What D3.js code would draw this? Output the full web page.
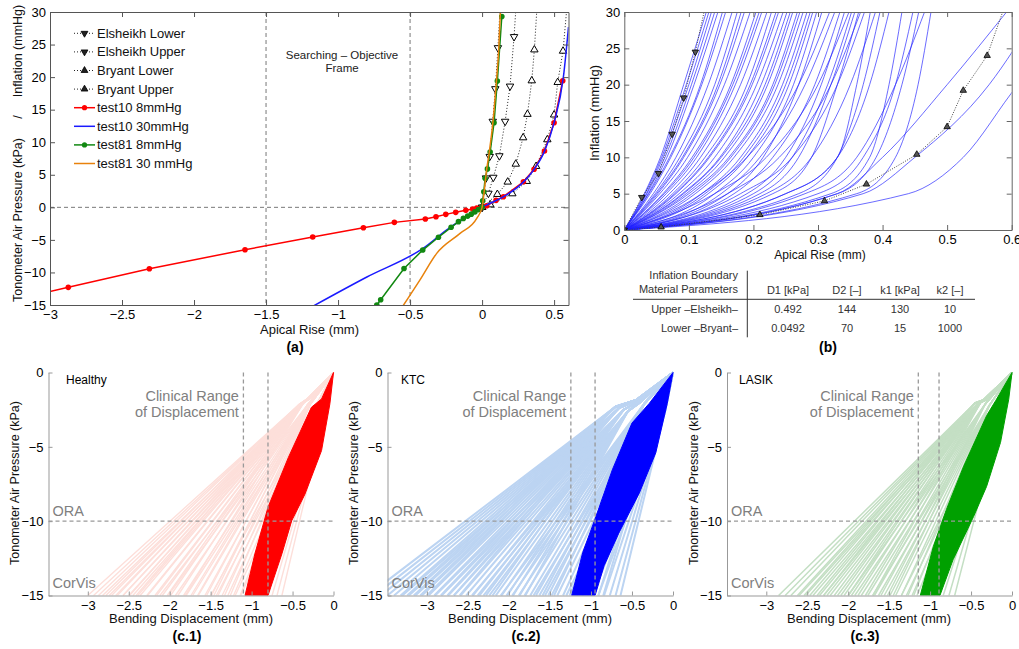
<!DOCTYPE html>
<meta charset="utf-8">
<head>
    <title>Inflation and tonometer response</title>
    <script src="https://cdn.jsdelivr.net/npm/d3@7"></script>
</head>

<style>
    body { margin: 0; background: #fff; }
</style>
<body>
<script>
    // ---- (a) inflation boundaries (also used in b) ----
    var elsLowerX = [0, 0.044, 0.078, 0.12, 0.16, 0.194, 0.222, 0.236];
    var elsLowerY = [0, 2.15, 4.6, 7.9, 13.2, 18.6, 26.2, 31];
    var elsUpperX = [0, 0.027, 0.053, 0.074, 0.092, 0.11, 0.126];
    var elsUpperY = [0, 4.5, 7.8, 13.2, 18.2, 24.5, 31];
    var bryLowerX = [0, 0.057, 0.21, 0.31, 0.375, 0.453, 0.5, 0.525, 0.562, 0.59];
    var bryLowerY = [0, 0.4, 2.1, 4.0, 6.3, 10.4, 14.2, 19.2, 24.0, 31];
    var bryUpperX = [0, 0.106, 0.178, 0.234, 0.285, 0.315, 0.345, 0.363, 0.382];
    var bryUpperY = [0, 2.0, 3.9, 6.65, 10.7, 14.3, 19.45, 24.2, 31];

    // ---- (a) test cases ----
    var t10lowX = [-3.2, -2.873, -2.31, -1.646, -1.176, -0.824, -0.609, -0.394, -0.32, -0.252, -0.183, -0.113, -0.065, -0.037, 0, 0.032, 0.097, 0.148, 0.287, 0.361, 0.433, 0.5, 0.56];
    var t10lowY = [-13.9, -12.29, -9.43, -6.51, -4.56, -3.13, -2.31, -1.8, -1.44, -1.08, -0.77, -0.46, -0.26, -0.1, 0, 0.25, 1.07, 1.63, 3.93, 5.84, 8.65, 13.0, 19.45];
    var t10highX = [-1.2, -0.8, -0.41, -0.217, -0.1, 0, 0.05, 0.15, 0.29, 0.36, 0.433, 0.5, 0.565, 0.6];
    var t10highY = [-15.5, -10.7, -6.3, -3.0, -1.4, 0, 0.55, 1.65, 3.95, 5.8, 8.6, 13.0, 20.1, 27.7];
    var t81lowX = [-0.731, -0.704, -0.542, -0.412, -0.303, -0.215, -0.164, -0.13, -0.1, -0.075, -0.05, -0.025, 0, 0.004, 0.012, 0.021, 0.037, 0.056, 0.083, 0.106, 0.137];
    var t81lowY = [-15, -14.2, -9.4, -6.56, -4.6, -3.07, -2.2, -1.7, -1.35, -1.05, -0.7, -0.35, 0, 1.0, 2.4, 4.45, 5.9, 8.5, 13, 19.4, 29.3];
    var t81highX = [-0.56, -0.43, -0.315, -0.153, -0.037, 0, 0.015, 0.03, 0.05, 0.075, 0.1, 0.115, 0.128];
    var t81highY = [-15.5, -11.1, -7.07, -4.0, -1.7, 0, 2.5, 5.5, 8.5, 13, 19.5, 24, 30.5];
    var aFrameX = [-1.5, -0.5];
    var legendLabels = ['Elsheikh Lower', 'Elsheikh Upper', 'Bryant Lower', 'Bryant Upper',
        'test10 8mmHg', 'test10 30mmHg', 'test81 8mmHg', 'test81 30 mmHg'];
    var aXTicks = [-3, -2.5, -2, -1.5, -1, -0.5, 0, 0.5];
    var aYTicks = [-15, -10, -5, 0, 5, 10, 15, 20, 25, 30];

    // ---- (b) sampled curves: apical rise at 5, 10, 20, 30 mmHg ----
    var bLevels = [0, 5, 10, 20, 30];
    var bCurves = [
        [0.031, 0.056, 0.092, 0.127], [0.032, 0.058, 0.096, 0.131], [0.034, 0.06, 0.1, 0.135],
        [0.035, 0.063, 0.104, 0.14], [0.037, 0.066, 0.108, 0.145], [0.038, 0.07, 0.118, 0.152],
        [0.04, 0.072, 0.12, 0.157], [0.045, 0.08, 0.13, 0.167], [0.048, 0.086, 0.14, 0.175],
        [0.05, 0.09, 0.145, 0.181], [0.052, 0.092, 0.148, 0.186], [0.055, 0.098, 0.155, 0.195],
        [0.06, 0.105, 0.165, 0.204], [0.062, 0.108, 0.168, 0.209], [0.065, 0.112, 0.172, 0.213],
        [0.07, 0.118, 0.18, 0.221], [0.075, 0.125, 0.19, 0.228], [0.078, 0.13, 0.195, 0.235],
        [0.08, 0.132, 0.198, 0.239], [0.085, 0.14, 0.205, 0.246], [0.09, 0.148, 0.212, 0.252],
        [0.092, 0.15, 0.218, 0.257], [0.096, 0.155, 0.222, 0.261], [0.1, 0.162, 0.23, 0.268],
        [0.105, 0.165, 0.233, 0.272], [0.11, 0.17, 0.238, 0.277], [0.12, 0.18, 0.245, 0.283],
        [0.125, 0.185, 0.25, 0.288], [0.13, 0.19, 0.255, 0.292], [0.14, 0.2, 0.262, 0.298],
        [0.16, 0.215, 0.27, 0.306], [0.12, 0.19, 0.27, 0.318], [0.15, 0.21, 0.28, 0.326],
        [0.17, 0.23, 0.295, 0.334], [0.19, 0.25, 0.305, 0.341], [0.14, 0.22, 0.3, 0.348],
        [0.2, 0.26, 0.315, 0.352], [0.21, 0.27, 0.32, 0.357], [0.23, 0.29, 0.33, 0.363],
        [0.16, 0.24, 0.32, 0.366], [0.18, 0.26, 0.33, 0.372], [0.25, 0.33, 0.36, 0.381],
        [0.22, 0.29, 0.35, 0.389], [0.27, 0.33, 0.37, 0.396], [0.25, 0.33, 0.38, 0.41],
        [0.32, 0.38, 0.41, 0.43], [0.3, 0.37, 0.42, 0.447], [0.33, 0.39, 0.43, 0.456],
        [0.28, 0.36, 0.42, 0.465], [0.36, 0.42, 0.455, 0.475], [0.33, 0.4, 0.5, 0.592],
        [0.37, 0.45, 0.565, 0.64], [0.44, 0.525, 0.61, 0.72]
    ];
    var bXTicks = [0, 0.1, 0.2, 0.3, 0.4, 0.5, 0.6];
    var bYTicks = [0, 5, 10, 15, 20, 25, 30];
    var tableHead = ['D1 [kPa]', 'D2 [\u2013]', 'k1 [kPa]', 'k2 [\u2013]'];
    var tableRows = ['Upper \u2013Elsheikh\u2013', 'Lower \u2013Bryant\u2013'];
    var tableVals = [['0.492', '144', '130', '10'], ['0.0492', '70', '15', '1000']];

    // ---- (c) bending displacement clouds ----
    var cNames = ['Healthy', 'KTC', 'LASIK'];
    var cTags = ['(c.1)', '(c.2)', '(c.3)'];
    var cRanges = [[-1.1, -0.8], [-1.245, -0.95], [-1.144, -0.891]];
    var cXTicks = [-3, -2.5, -2, -1.5, -1, -0.5, 0];
    var cYTicks = [-15, -10, -5, 0];
    var healthyKnees = [
        [[-0.3, -1.7], [-0.42, -2.15]], [[-0.25, -1.6], [-0.38, -2.1]], [[-0.36, -2.0]], [[-0.32, -2.2]],
        [[-0.28, -2.1]], [[-0.22, -2.3]], [[-0.15, -2.5]], [[-0.1, -2.7]]
    ];
    var healthyEnds = [
        [-3.0, -2.93, -2.87, -2.78, -2.71, -2.64, -2.57, -2.49, -2.41],
        [-2.82, -2.74, -2.66, -2.57, -2.5, -2.39, -2.28, -2.16, -2.03],
        [-2.45, -2.36, -2.27, -2.18, -2.09, -1.99, -1.9, -1.81],
        [-2.12, -2.02, -1.93, -1.83, -1.74, -1.66, -1.55, -1.46],
        [-1.8, -1.72, -1.65, -1.57, -1.49, -1.41, -1.33, -1.26],
        [-1.5, -1.43, -1.36, -1.29, -1.22, -1.14, -1.07, -1.0],
        [-1.2, -1.13, -1.07, -1.0, -0.93, -0.87, -0.8],
        [-0.95, -0.88, -0.81, -0.75, -0.69, -0.63]
    ];
    var healthyBandL = [[0, 0], [-0.146, -1.78], [-0.27, -2.34], [-0.55, -5.7], [-0.8, -9.07], [-0.96, -12.2], [-1.08, -15]];
    var healthyBandR = [[-0.8, -15], [-0.63, -12.2], [-0.51, -9.97], [-0.35, -8.2], [-0.146, -5.25], [-0.044, -2.1], [0, 0]];
    var ktcKnees = [
        [[-0.45, -1.85], [-0.7, -2.3]], [[-0.45, -1.9], [-0.66, -2.4]], [[-0.42, -1.95], [-0.6, -2.5]],
        [[-0.4, -2.0], [-0.55, -2.6]], [[-0.35, -2.1]], [[-0.28, -2.2]], [[-0.18, -2.4]], [[-0.1, -2.7]]
    ];
    var ktcEnds = [
        [-3.72, -3.64, -3.56, -3.48, -3.4, -3.32, -3.24, -3.16, -3.08, -3.0],
        [-3.3, -3.22, -3.14, -3.06, -2.98, -2.91, -2.83, -2.75, -2.67, -2.6],
        [-2.9, -2.82, -2.74, -2.67, -2.59, -2.52, -2.44, -2.36, -2.28, -2.2],
        [-2.45, -2.38, -2.31, -2.24, -2.16, -2.09, -2.02, -1.95, -1.87, -1.8],
        [-2.1, -2.03, -1.96, -1.88, -1.81, -1.74, -1.67, -1.59, -1.52, -1.45],
        [-1.7, -1.63, -1.56, -1.48, -1.41, -1.34, -1.26, -1.18, -1.1],
        [-1.3, -1.24, -1.17, -1.11, -1.04, -0.98, -0.91, -0.85],
        [-0.98, -0.91, -0.84, -0.77, -0.7, -0.64]
    ];
    var ktcBandL = [[0, 0], [-0.29, -2.08], [-0.5, -3.4], [-0.74, -6.55], [-0.94, -9.7], [-1.1, -12.1], [-1.235, -15]];
    var ktcBandR = [[-0.95, -15], [-0.84, -13], [-0.66, -10.8], [-0.41, -8.1], [-0.21, -5.4], [-0.07, -2.08], [0, 0]];
    var lasikKnees = [
        [[-0.3, -1.75], [-0.45, -2.05]], [[-0.28, -1.75], [-0.42, -2.1]], [[-0.38, -2.0]], [[-0.33, -2.15]],
        [[-0.28, -2.25]], [[-0.2, -2.4]], [[-0.12, -2.6]]
    ];
    var lasikEnds = [
        [-2.85, -2.77, -2.7, -2.62, -2.54, -2.47, -2.38, -2.3],
        [-2.6, -2.52, -2.43, -2.35, -2.26, -2.17, -2.09, -2.0],
        [-2.3, -2.22, -2.13, -2.05, -1.96, -1.88, -1.79, -1.7],
        [-2.0, -1.92, -1.84, -1.76, -1.68, -1.6, -1.52, -1.45],
        [-1.7, -1.63, -1.56, -1.49, -1.42, -1.35, -1.27, -1.2],
        [-1.35, -1.29, -1.22, -1.16, -1.09, -1.02, -0.95],
        [-1.05, -0.98, -0.91, -0.84, -0.77, -0.7]
    ];
    var lasikBandL = [[0, 0], [-0.2, -1.9], [-0.31, -2.9], [-0.59, -6.3], [-0.8, -9.2], [-0.96, -11.7], [-1.12, -15]];
    var lasikBandR = [[-0.88, -15], [-0.72, -12.6], [-0.47, -9.7], [-0.31, -7.66], [-0.14, -4.7], [-0.04, -1.8], [0, 0]];

    // ------------------------------------------------------------
    var font = '"Liberation Sans", Arial, Helvetica, sans-serif';
    var fmt = d3.format('~g');
    var svg = d3.select('body').append('svg').attr('width', 1019).attr('height', 649)
        .style('font-family', font);
    var defs = svg.append('defs');
    var nClip = 0;
    function clipFor(x, y, w, h) {
        var id = 'clip' + (nClip++);
        defs.append('clipPath').attr('id', id).append('rect')
            .attr('x', x).attr('y', y).attr('width', w).attr('height', h);
        return 'url(#' + id + ')';
    }
    function zip(xs, ys) { return xs.map(function (v, i) { return [v, ys[i]]; }); }
    function styleAxis(s, col, fs) {
        s.attr('font-size', fs).attr('font-family', font);
        s.select('.domain').attr('stroke', col);
        s.selectAll('.tick line').attr('stroke', col);
        s.selectAll('.tick text').attr('fill', '#000');
    }
    function boxAxes(g, x, y, xt, yt, col, pad) {
        var xr = x.range(), yr = y.range();
        g.append('g').attr('transform', 'translate(0,' + yr[0] + ')')
            .call(d3.axisBottom(x).tickValues(xt).tickFormat(fmt).tickSize(-5).tickSizeOuter(0).tickPadding(pad))
            .call(styleAxis, col, 13);
        g.append('g').attr('transform', 'translate(0,' + yr[1] + ')')
            .call(d3.axisTop(x).tickValues(xt).tickFormat('').tickSize(-5).tickSizeOuter(0))
            .call(styleAxis, col, 13);
        g.append('g').attr('transform', 'translate(' + xr[0] + ',0)')
            .call(d3.axisLeft(y).tickValues(yt).tickFormat(fmt).tickSize(-5).tickSizeOuter(0).tickPadding(4))
            .call(styleAxis, col, 13);
        g.append('g').attr('transform', 'translate(' + xr[1] + ',0)')
            .call(d3.axisRight(y).tickValues(yt).tickFormat('').tickSize(-5).tickSizeOuter(0))
            .call(styleAxis, col, 13);
    }
    function tri(size) {
        return d3.symbol().type(d3.symbolTriangle).size(size)();
    }

    // ===================== panel (a) =====================
    var ax = d3.scaleLinear().domain([-3, 0.6]).range([50, 568.5]);
    var ay = d3.scaleLinear().domain([-15, 30]).range([305, 12]);
    var ga = svg.append('g');
    var pa = ga.append('g').attr('clip-path', clipFor(50, 12, 518.5, 293));
    var aLine = d3.line().x(function (d) { return ax(d[0]); }).y(function (d) { return ay(d[1]); });

    pa.selectAll('line.fx').data(aFrameX).enter().append('line')
        .attr('x1', function (d) { return ax(d); }).attr('x2', function (d) { return ax(d); })
        .attr('y1', ay(30)).attr('y2', ay(-15))
        .attr('stroke', '#555').attr('stroke-width', 0.8).attr('stroke-dasharray', '4,3');
    pa.append('line').attr('x1', ax(-3)).attr('x2', ax(0.6)).attr('y1', ay(0)).attr('y2', ay(0))
        .attr('stroke', '#555').attr('stroke-width', 0.8).attr('stroke-dasharray', '4,3');

    var bounds = [
        {pts: zip(elsLowerX, elsLowerY), up: false},
        {pts: zip(elsUpperX, elsUpperY), up: false},
        {pts: zip(bryLowerX, bryLowerY), up: true},
        {pts: zip(bryUpperX, bryUpperY), up: true}
    ];
    bounds.forEach(function (b) {
        pa.append('path').attr('d', aLine(b.pts)).attr('fill', 'none')
            .attr('stroke', '#222').attr('stroke-width', 1).attr('stroke-dasharray', '1,2');
        pa.selectAll(null).data(b.pts).enter().append('path')
            .attr('d', tri(24))
            .attr('transform', function (d) { return 'translate(' + ax(d[0]) + ',' + ay(d[1]) + ')' + (b.up ? '' : ' rotate(180)'); })
            .attr('fill', '#fff').attr('stroke', '#000').attr('stroke-width', 1);
    });

    var tests = [
        {pts: zip(t10lowX, t10lowY), col: '#ff0000', dots: true, curve: d3.curveLinear},
        {pts: zip(t10highX, t10highY), col: '#1a1aff', dots: false, curve: d3.curveMonotoneX},
        {pts: zip(t81lowX, t81lowY), col: '#118811', dots: true, curve: d3.curveLinear},
        {pts: zip(t81highX, t81highY), col: '#e8820c', dots: false, curve: d3.curveMonotoneX}
    ];
    tests.forEach(function (t) {
        pa.append('path').attr('d', aLine.curve(t.curve)(t.pts)).attr('fill', 'none')
            .attr('stroke', t.col).attr('stroke-width', 1.5);
        aLine.curve(d3.curveLinear);
        if (t.dots) {
            pa.selectAll(null).data(t.pts).enter().append('circle')
                .attr('cx', function (d) { return ax(d[0]); }).attr('cy', function (d) { return ay(d[1]); })
                .attr('r', 2.8).attr('fill', t.col);
        }
    });

    boxAxes(ga, ax, ay, aXTicks, aYTicks, '#555', 5);

    ga.append('text').attr('x', 342).attr('y', 59).attr('text-anchor', 'middle')
        .attr('font-size', 11.5).attr('fill', '#222').text('Searching \u2013 Objective');
    ga.append('text').attr('x', 342).attr('y', 72).attr('text-anchor', 'middle')
        .attr('font-size', 11.5).attr('fill', '#222').text('Frame');

    // legend
    var legStyles = [
        {col: '#222', mark: 'down', dotted: true}, {col: '#222', mark: 'down', dotted: true},
        {col: '#222', mark: 'up', dotted: true}, {col: '#222', mark: 'up', dotted: true},
        {col: '#ff0000', mark: 'dot'}, {col: '#1a1aff', mark: null},
        {col: '#118811', mark: 'dot'}, {col: '#e8820c', mark: null}
    ];
    var leg = ga.append('g');
    legendLabels.forEach(function (lab, i) {
        var yy = 33.3 + i * 18.6, s = legStyles[i];
        leg.append('line').attr('x1', 74).attr('x2', 95).attr('y1', yy).attr('y2', yy)
            .attr('stroke', s.col).attr('stroke-width', s.dotted ? 1 : 1.5)
            .attr('stroke-dasharray', s.dotted ? '1,2' : null);
        if (s.mark === 'dot') {
            leg.append('circle').attr('cx', 84.5).attr('cy', yy).attr('r', 2.6).attr('fill', s.col);
        } else if (s.mark) {
            leg.append('path').attr('d', tri(20))
                .attr('transform', 'translate(84.5,' + yy + ')' + (s.mark === 'down' ? ' rotate(180)' : ''))
                .attr('fill', '#222').attr('stroke', '#000').attr('stroke-width', 0.8);
        }
        leg.append('text').attr('x', 97).attr('y', yy + 4.5).attr('font-size', 13).attr('fill', '#111').text(lab);
    });

    // axis titles
    [['Tonometer Air Pressure (kPa)', 220], ['/', 117], ['Inflation (mmHg)', 51]].forEach(function (p) {
        ga.append('text').attr('transform', 'translate(22,' + p[1] + ') rotate(-90)')
            .attr('text-anchor', 'middle').attr('font-size', 12.5).attr('fill', '#111').text(p[0]);
    });
    ga.append('text').attr('x', 309.5).attr('y', 334).attr('text-anchor', 'middle')
        .attr('font-size', 13).attr('fill', '#111').text('Apical Rise (mm)');
    ga.append('text').attr('x', 295).attr('y', 352).attr('text-anchor', 'middle')
        .attr('font-size', 14).attr('font-weight', 'bold').text('(a)');

    // ===================== panel (b) =====================
    var bx = d3.scaleLinear().domain([0, 0.6]).range([624.3, 1011.7]);
    var by = d3.scaleLinear().domain([0, 30]).range([230, 12]);
    var gb = svg.append('g');
    var pb = gb.append('g').attr('clip-path', clipFor(624.3, 12, 387.4, 218));
    var bLine = d3.line().x(function (d) { return bx(d[0]); }).y(function (d) { return by(d[1]); });
    var bSmooth = d3.line().curve(d3.curveMonotoneX).x(function (d) { return bx(d[0]); }).y(function (d) { return by(d[1]); });

    pb.selectAll('path.bc').data(bCurves).enter().append('path')
        .attr('d', function (c) { return bSmooth(bLevels.map(function (lv, i) { return [i === 0 ? 0 : c[i - 1], lv]; })); })
        .attr('fill', 'none').attr('stroke', '#2222ff').attr('stroke-opacity', 0.75).attr('stroke-width', 0.9);

    [{pts: zip(elsUpperX, elsUpperY), up: false}, {pts: zip(bryLowerX, bryLowerY), up: true}].forEach(function (b) {
        pb.append('path').attr('d', bLine(b.pts)).attr('fill', 'none')
            .attr('stroke', '#444').attr('stroke-width', 1).attr('stroke-dasharray', '1,1.5');
        pb.selectAll(null).data(b.pts).enter().append('path')
            .attr('d', tri(18))
            .attr('transform', function (d) { return 'translate(' + bx(d[0]) + ',' + by(d[1]) + ')' + (b.up ? '' : ' rotate(180)'); })
            .attr('fill', '#555').attr('stroke', '#000').attr('stroke-width', 0.8);
    });

    boxAxes(gb, bx, by, bXTicks, bYTicks, '#666', 5);

    gb.append('text').attr('transform', 'translate(599,113) rotate(-90)').attr('text-anchor', 'middle')
        .attr('font-size', 13).attr('fill', '#111').text('Inflation (mmHg)');
    gb.append('text').attr('x', 820).attr('y', 259).attr('text-anchor', 'middle')
        .attr('font-size', 12).attr('fill', '#111').text('Apical Rise (mm)');

    // parameter table
    var tb = gb.append('g').attr('font-size', 11).attr('fill', '#333');
    var colX = [788, 847, 900, 950];
    tb.append('text').attr('x', 738).attr('y', 279).attr('text-anchor', 'end').text('Inflation Boundary');
    tb.append('text').attr('x', 738).attr('y', 292.5).attr('text-anchor', 'end').text('Material Parameters');
    tableHead.forEach(function (h, i) {
        tb.append('text').attr('x', colX[i]).attr('y', 294).attr('text-anchor', 'middle').text(h);
    });
    tableRows.forEach(function (r, j) {
        var yy = 312.5 + j * 19;
        tb.append('text').attr('x', 738).attr('y', yy).attr('text-anchor', 'end').text(r);
        tableVals[j].forEach(function (v, i) {
            tb.append('text').attr('x', colX[i]).attr('y', yy).attr('text-anchor', 'middle').text(v);
        });
    });
    gb.append('line').attr('x1', 633).attr('x2', 975).attr('y1', 299.3).attr('y2', 299.3).attr('stroke', '#333');
    gb.append('line').attr('x1', 747.3).attr('x2', 747.3).attr('y1', 270.7).attr('y2', 337.3).attr('stroke', '#333');
    gb.append('text').attr('x', 828).attr('y', 352).attr('text-anchor', 'middle')
        .attr('font-size', 14).attr('font-weight', 'bold').text('(b)');

    // ===================== panels (c) =====================
    var cPanels = [
        {left: 48.5, right: 333.5, knees: healthyKnees, ends: healthyEnds, bandL: healthyBandL, bandR: healthyBandR,
            light: '#fddfda', dark: '#ff0000', lw: 1.4, nameDx: 17.5, labX: 191},
        {left: 387.5, right: 673, knees: ktcKnees, ends: ktcEnds, bandL: ktcBandL, bandR: ktcBandR,
            light: '#bcd4f2', dark: '#0000ff', lw: 2.0, nameDx: 13.5, labX: 530},
        {left: 727, right: 1012, knees: lasikKnees, ends: lasikEnds, bandL: lasikBandL, bandR: lasikBandR,
            light: '#c4dfc4', dark: '#00a000', lw: 1.5, nameDx: 12, labX: 869}
    ];
    var cTop = 372.5, cBot = 595.5;
    cPanels.forEach(function (p, k) {
        var cx = d3.scaleLinear().domain([-3.48, 0]).range([p.left, p.right]);
        var cy = d3.scaleLinear().domain([-15, 0]).range([cBot, cTop]);
        var g = svg.append('g');
        var pl = g.append('g').attr('clip-path', clipFor(p.left, cTop - 2, p.right - p.left + 2, cBot - cTop + 2));
        var ln = d3.line().x(function (d) { return cx(d[0]); }).y(function (d) { return cy(d[1]); });

        var curves = [];
        p.knees.forEach(function (kn, gi) {
            p.ends[gi].forEach(function (e) { curves.push([[0, 0]].concat(kn, [[e, -15]])); });
        });
        pl.selectAll('path.lt').data(curves).enter().append('path')
            .attr('d', ln).attr('fill', 'none').attr('stroke', p.light).attr('stroke-width', p.lw);
        pl.append('path').attr('d', ln(p.bandL.concat(p.bandR)) + 'Z')
            .attr('fill', p.dark).attr('stroke', p.dark).attr('stroke-width', 1);

        pl.selectAll('line.rg').data(cRanges[k]).enter().append('line')
            .attr('x1', function (d) { return cx(d); }).attr('x2', function (d) { return cx(d); })
            .attr('y1', cTop).attr('y2', cBot)
            .attr('stroke', '#999').attr('stroke-width', 1.3).attr('stroke-dasharray', '4,3');
        pl.append('line').attr('x1', p.left).attr('x2', p.right).attr('y1', cy(-10)).attr('y2', cy(-10))
            .attr('stroke', '#999').attr('stroke-width', 1.3).attr('stroke-dasharray', '4,3');

        g.append('g').attr('transform', 'translate(0,' + cBot + ')')
            .call(d3.axisBottom(cx).tickValues(cXTicks).tickFormat(fmt).tickSize(-4).tickSizeOuter(0).tickPadding(5))
            .call(styleAxis, '#999', 13);
        g.append('g').attr('transform', 'translate(' + p.left + ',0)')
            .call(d3.axisLeft(cy).tickValues(cYTicks).tickFormat(fmt).tickSize(-4).tickSizeOuter(0).tickPadding(5))
            .call(styleAxis, '#999', 13);

        g.append('text').attr('x', p.left + p.nameDx).attr('y', 384).attr('font-size', 12).attr('fill', '#000').text(cNames[k]);
        var rx = cx(cRanges[k][0]) - 4.5;
        g.append('text').attr('x', rx).attr('y', 400.5).attr('text-anchor', 'end')
            .attr('font-size', 14.5).attr('fill', '#808080').text('Clinical Range');
        g.append('text').attr('x', rx).attr('y', 417).attr('text-anchor', 'end')
            .attr('font-size', 14.5).attr('fill', '#808080').text('of Displacement');
        g.append('text').attr('x', p.left + 4).attr('y', 516).attr('font-size', 14.5).attr('fill', '#808080').text('ORA');
        g.append('text').attr('x', p.left + 4).attr('y', 588).attr('font-size', 14.5).attr('fill', '#808080').text('CorVis');

        g.append('text').attr('transform', 'translate(' + (p.left - 29.5) + ',483) rotate(-90)')
            .attr('text-anchor', 'middle').attr('font-size', 12.5).attr('fill', '#111').text('Tonometer Air Pressure (kPa)');
        g.append('text').attr('x', p.labX).attr('y', 623).attr('text-anchor', 'middle')
            .attr('font-size', 13).attr('fill', '#111').text('Bending Displacement (mm)');
        g.append('text').attr('x', p.labX - 4).attr('y', 641).attr('text-anchor', 'middle')
            .attr('font-size', 14).attr('font-weight', 'bold').text(cTags[k]);
    });
</script>
</body>
